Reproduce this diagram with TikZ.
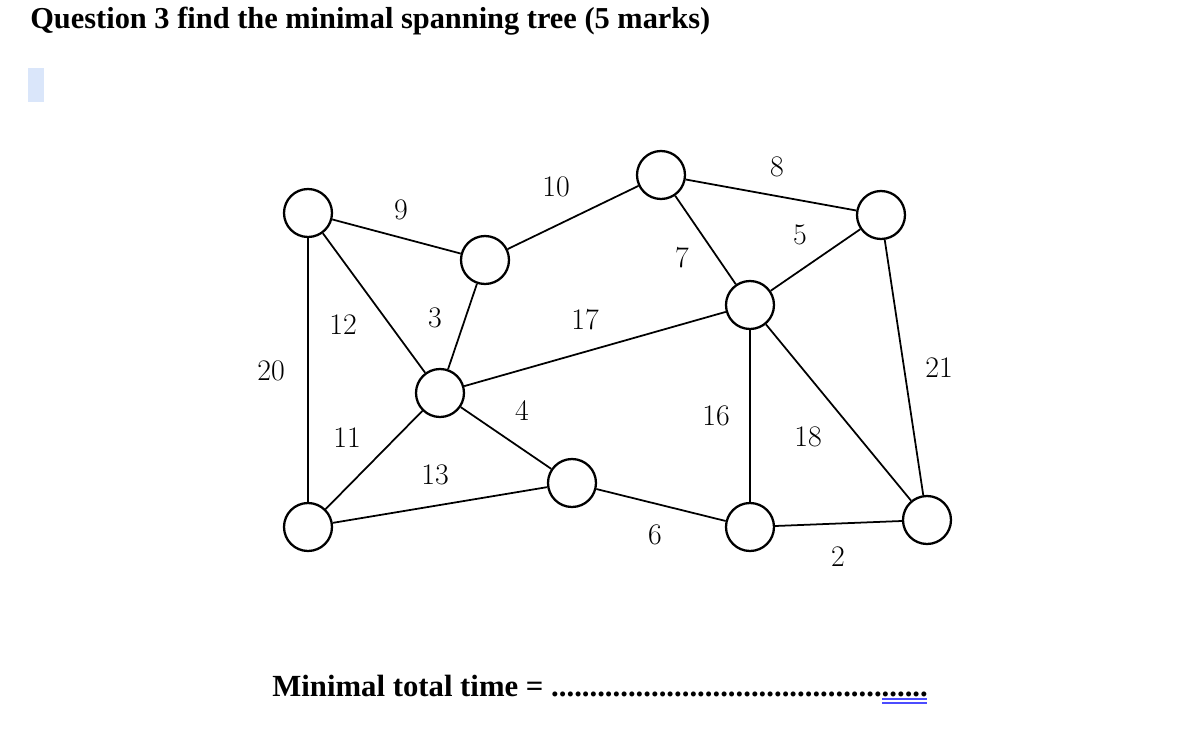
\documentclass[tikz,border=0pt]{standalone}
\usepackage{fontspec}
\newfontfamily\tnr{Liberation Serif}
\definecolor{selblue}{RGB}{218,230,250}
\begin{document}
\begin{tikzpicture}[x=0.02cm,y=-0.02cm,
  v/.style={circle,draw,line width=1.3pt,minimum size=0.96cm,inner sep=0pt,fill=white},
  e/.style={line width=1pt},
  w/.style={font=\fontsize{17}{17}\selectfont}]
\useasboundingbox (0,0) rectangle (1178,734);
\node[anchor=west,inner sep=0pt,font=\tnr\bfseries\fontsize{17.3}{17.3}\selectfont] (title) at (30,21) {Question 3 find the minimal spanning tree (5 marks)};
\fill[selblue] (28,68) rectangle (44,102);
\node[v] (A) at (308,213) {};
\node[v] (B) at (485,260) {};
\node[v] (C) at (661,175) {};
\node[v] (D) at (881,215) {};
\node[v] (E) at (750,305) {};
\node[v] (F) at (440,393) {};
\node[v] (G) at (572,483) {};
\node[v] (H) at (308,527) {};
\node[v] (I) at (750,527) {};
\node[v] (J) at (927,520) {};
\draw[e] (A)--(B) (B)--(C) (C)--(D) (C)--(E) (E)--(D) (A)--(F) (B)--(F) (F)--(E)
  (A)--(H) (F)--(H) (F)--(G) (H)--(G) (G)--(I) (E)--(I) (E)--(J) (I)--(J) (D)--(J);
\node[w] (l9) at (401,210) {9};
\node[w] (l10) at (556,187) {10};
\node[w] (l8) at (777,167) {8};
\node[w] (l5) at (800,235) {5};
\node[w] (l7) at (682,258) {7};
\node[w] (l12) at (343,325) {12};
\node[w] (l3) at (435,318) {3};
\node[w] (l17) at (585,320) {17};
\node[w] (l20) at (271,371) {20};
\node[w] (l21) at (939,368) {21};
\node[w] (l4) at (522,411) {4};
\node[w] (l16) at (716,416) {16};
\node[w] (l11) at (347,438) {11};
\node[w] (l18) at (808,437) {18};
\node[w] (l13) at (435,475) {13};
\node[w] (l6) at (655,535) {6};
\node[w] (l2) at (838,557) {2};
\node[anchor=west,inner sep=0pt,font=\tnr\bfseries\fontsize{17.5}{17.5}\selectfont] (tot) at (272,686) {Minimal total time = .................................................};
\draw[blue!70,line width=0.8pt] (882,699)--(927,699) (882,703)--(927,703);
\end{tikzpicture}
\end{document}
